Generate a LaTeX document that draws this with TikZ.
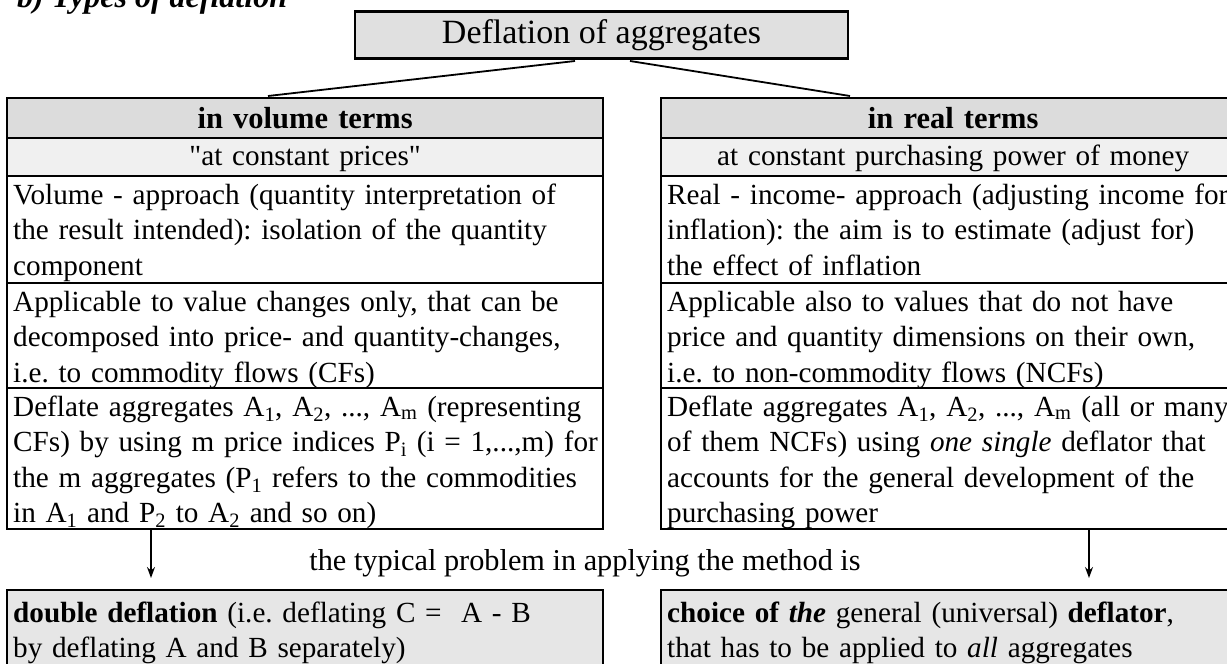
\documentclass[tikz,border=0pt]{standalone}
\usepackage{fontspec}
\setmainfont{Liberation Serif}[Ligatures=TeXOff]
\usetikzlibrary{arrows.meta}
\newcommand\bodyfont{\fontsize{29.2}{35.5}\selectfont\frenchspacing}
\newcommand\headfont{\fontsize{30.5}{35.5}\selectfont\bfseries}
\newcommand\rootfont{\fontsize{34}{40}\selectfont}
% keep a table line on one line, even where it runs close to the frame
\newcommand\oneline[1]{\mbox{#1}}
\definecolor{headgray}{HTML}{DCDCDC}
\definecolor{subgray}{HTML}{F0F0F0}
\definecolor{topgray}{HTML}{E0E0E0}
\definecolor{probgray}{HTML}{E6E6E6}
\begin{document}
\begin{tikzpicture}[x=1pt,y=-1pt,
  frame/.style={draw=black, line width=2.4pt},
  cell/.style={frame, anchor=north west, inner xsep=6pt, inner ysep=0pt,
    align=left, font=\bodyfont, text height=28pt},
  lcell/.style={cell, text width=584pt},
  rcell/.style={cell, text width=572pt},
  headrow/.style={fill=headgray, align=center, font=\headfont,
    text height=30pt, text depth=10pt},
  subrow/.style={fill=subgray, align=center, text height=27pt, text depth=11pt},
  branch/.style={draw=black, line width=1.8pt},
  down/.style={draw=black, line width=1.3pt, -{Stealth[length=11pt,width=8pt]}},
]
\useasboundingbox (0,0) rectangle (1227,664);
\clip (0,0) rectangle (1227,664);

% heading
\node[anchor=base west, inner sep=0pt,
  font=\fontsize{32}{38}\selectfont\bfseries\itshape]
  (title) at (17,7) {b) Types of deflation};

% root box
\node[frame, fill=topgray, minimum width=493pt, minimum height=47pt,
  inner sep=0pt, font=\rootfont] (root) at (601.5,35) {Deflation of aggregates};

% left column: deflation in volume terms
\node[lcell, headrow] (lhead) at (6,97) {in volume terms};
\node[lcell, subrow] (lsub) at (6,137) {\textquotedbl at constant prices\textquotedbl};
\node[lcell, text depth=79pt] (lrow1) at (6,175)
  {\oneline{Volume - approach (quantity interpretation of}\\
   \oneline{the result intended): isolation of the quantity}\\
   \oneline{component}};
\node[lcell, text depth=77pt] (lrow2) at (6,282)
  {\oneline{Applicable to value changes only, that can be}\\
   \oneline{decomposed into price- and quantity-changes,}\\
   \oneline{i.e. to commodity flows (CFs)}};
\node[lcell, text depth=113pt] (lrow3) at (6,387)
  {\oneline{Deflate aggregates A\textsubscript{1}, A\textsubscript{2}, ..., A\textsubscript{m} (representing}\\
   \oneline{CFs) by using m price indices P\textsubscript{i} (i = 1,...,m) for}\\
   \oneline{the m aggregates (P\textsubscript{1} refers to the commodities}\\
   \oneline{in A\textsubscript{1} and P\textsubscript{2} to A\textsubscript{2} and so on)}};

% right column: deflation in real terms
\node[rcell, headrow] (rhead) at (660,97) {in real terms};
\node[rcell, subrow] (rsub) at (660,137) {at constant purchasing power of money};
\node[rcell, text depth=79pt] (rrow1) at (660,175)
  {\oneline{Real - income- approach (adjusting income for}\\
   \oneline{inflation): the aim is to estimate (adjust for)}\\
   \oneline{the effect of inflation}};
\node[rcell, text depth=77pt] (rrow2) at (660,282)
  {\oneline{Applicable also to values that do not have}\\
   \oneline{price and quantity dimensions on their own,}\\
   \oneline{i.e. to non-commodity flows (NCFs)}};
\node[rcell, text depth=113pt] (rrow3) at (660,387)
  {\oneline{Deflate aggregates A\textsubscript{1}, A\textsubscript{2}, ..., A\textsubscript{m} (all or many}\\
   \oneline{of them NCFs) using \textit{one single} deflator that}\\
   \oneline{accounts for the general development of the}\\
   \oneline{purchasing power}};

% typical problems
\node[lcell, fill=probgray, text height=32pt, text depth=70pt] (lprob) at (6,589)
  {\oneline{\textbf{double deflation} (i.e. deflating C =~ A - B}\\
   \oneline{by deflating A and B separately)}};
\node[rcell, fill=probgray, text height=32pt, text depth=70pt] (rprob) at (660,589)
  {\oneline{\textbf{choice of \textit{the}} general (universal) \textbf{deflator},}\\
   \oneline{that has to be applied to \textit{all} aggregates}};

\node[anchor=base, inner sep=0pt, font=\fontsize{30.3}{35.5}\selectfont] (note)
  at (585,570) {the typical problem in applying the method is};

% connectors
\coordinate (rootL) at (575,61);
\coordinate (rootR) at (630,61);
\coordinate (lheadT) at (268,96);
\coordinate (rheadT) at (850,96);
\draw[branch] (rootL) -- (lheadT);
\draw[branch] (rootR) -- (rheadT);

\coordinate (lfoot) at (151,529);
\coordinate (lprobT) at (151,578);
\coordinate (rfoot) at (1089,529);
\coordinate (rprobT) at (1089,578);
\draw[down] (lfoot) -- (lprobT);
\draw[down] (rfoot) -- (rprobT);
\end{tikzpicture}
\end{document}
